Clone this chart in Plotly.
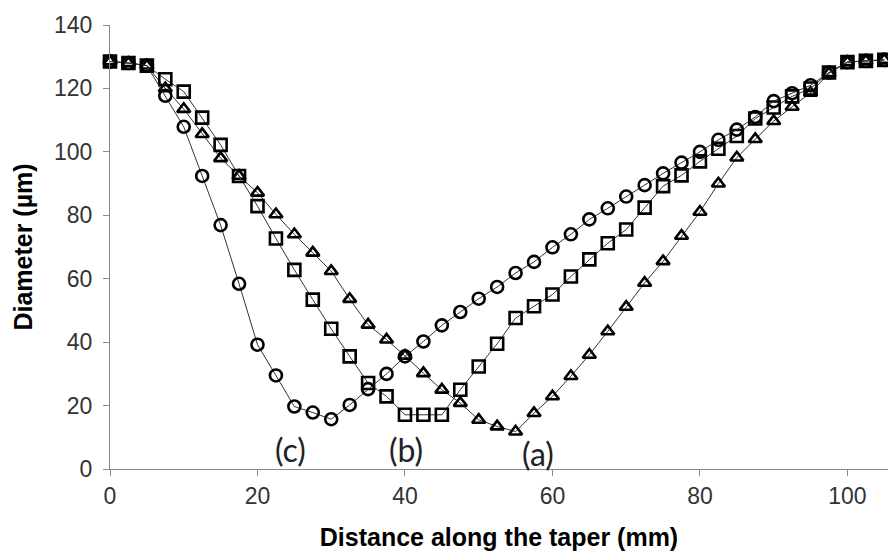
import plotly.graph_objects as go

distance = [0, 2.5, 5, 7.5, 10, 12.5, 15, 17.5, 20, 22.5, 25, 27.5, 30, 32.5, 35, 37.5,
            40, 42.5, 45, 47.5, 50, 52.5, 55, 57.5, 60, 62.5, 65, 67.5, 70, 72.5, 75,
            77.5, 80, 82.5, 85, 87.5, 90, 92.5, 95, 97.5, 100, 102.5, 105]

diam_c = [128.5, 128, 127.2, 117.7, 107.9, 92.4, 76.9, 58.4, 39.2, 29.5, 19.7, 17.8, 15.7,
          20.2, 25.2, 30, 35.5, 40.2, 45.3, 49.5, 53.7, 57.4, 61.8, 65.3, 69.9, 74, 78.7,
          82.2, 85.9, 89.5, 93.2, 96.6, 100, 103.8, 107, 111, 116, 118.5, 121, 125, 128.3,
          128.7, 129]

diam_b = [128.5, 128, 127.2, 122.9, 119, 110.8, 102.2, 92.4, 82.9, 72.7, 62.8, 53.4, 44.2,
          35.5, 27.1, 22.9, 17.1, 17.1, 17.1, 25, 32.3, 39.5, 47.6, 51.3, 55, 60.7, 66.1,
          71.2, 75.5, 82.4, 89.2, 92.6, 97, 101, 105, 110.5, 114, 117.5, 120, 125, 128.3,
          128.7, 129]

diam_a = [128.5, 128, 127.2, 120, 113.5, 105.6, 98, 92.4, 87.1, 80.3, 74, 68.2, 62.4,
          53.6, 45.5, 40.8, 35.7, 30.2, 25, 20.8, 15.5, 13.4, 11.8, 17.6, 22.9, 29.3, 36,
          43.4, 51.1, 58.7, 65.5, 73.5, 81.1, 90, 98.2, 104, 109.7, 114.2, 118.6, 124.8,
          128.3, 128.7, 129]

labels = ["(c)", "(b)", "(a)"]
label_x = [24.5, 40.2, 58]
label_y = [6, 6, 5]

series = [
    (diam_a, "triangle-up-open", 11.5),
    (diam_b, "square-open", 12),
    (diam_c, "circle-open", 12),
]

fig = go.Figure()
for vals, sym, size in series:
    fig.add_trace(go.Scatter(
        x=distance, y=vals, mode="lines+markers",
        line=dict(color="#333333", width=1),
        marker=dict(symbol=sym, size=size, color="#000000",
                    line=dict(color="#000000", width=2.6)),
        cliponaxis=False, showlegend=False,
    ))

for t, xx, yy in zip(labels, label_x, label_y):
    fig.add_annotation(x=xx, y=yy, xref="x", yref="y", text=t, showarrow=False,
                       font=dict(family="Lato", size=32, color="#222222"))

axis_common = dict(
    showline=True, linecolor="#8a8a8a", linewidth=1.3,
    ticks="outside", ticklen=6, tickcolor="#8a8a8a", tickwidth=1.3,
    showgrid=False, zeroline=False,
    tickfont=dict(family="Liberation Sans, Arial", size=23, color="#333333"),
)

fig.update_layout(
    width=888, height=551,
    margin=dict(l=110, r=0, t=25, b=82),
    paper_bgcolor="white", plot_bgcolor="white",
    xaxis=dict(range=[0, 105.5], tickvals=[0, 20, 40, 60, 80, 100],
               title=dict(text="<b>Distance along the taper (mm)</b>", standoff=20,
                          font=dict(family="Liberation Sans, Arial", size=25, color="#000000")),
               **axis_common),
    yaxis=dict(range=[0, 140], tickvals=[0, 20, 40, 60, 80, 100, 120, 140],
               ticklabelstandoff=6,
               title=dict(text="<b>Diameter (µm)</b>", standoff=14,
                          font=dict(family="Liberation Sans, Arial", size=25, color="#000000")),
               **axis_common),
)

fig.write_html("out.html")
